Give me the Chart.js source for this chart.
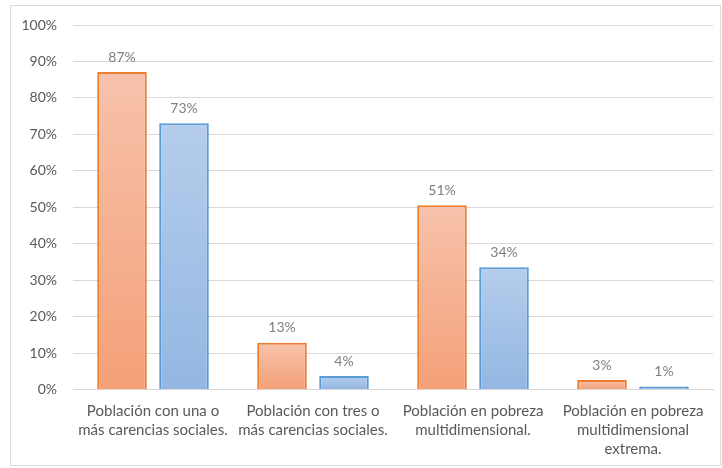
<!DOCTYPE html>
<html>
<head>
<meta charset="utf-8">
<script src="https://cdn.jsdelivr.net/npm/chart.js@4"></script>
<style>
  html, body { margin: 0; background: #fff; overflow: hidden; width: 722px; height: 468px; }
  #marco { position: absolute; left: 10px; top: 5px; width: 709px; height: 459px; border: 1px solid #d9d9d9; }
  #caja { position: absolute; left: 11px; top: 2px; width: 709px; height: 469px; }
</style>
</head>
<body>
<div id="marco"></div>
<div id="caja"><canvas id="chart"></canvas></div>
<script>
// Categorías y valores (porcentajes)
const categorias = [
  ["Población con una o", "más carencias sociales."],
  ["Población con tres o", "más carencias sociales."],
  ["Población en pobreza", "multidimensional."],
  ["Población en pobreza", "multidimensional", "extrema."]
];
const serieNaranja = [87.1, 12.9, 50.6, 2.7];
const serieAzul = [73.1, 3.8, 33.6, 0.9];
const etiquetasNaranja = ["87%", "13%", "51%", "3%"];
const etiquetasAzul = ["73%", "4%", "34%", "1%"];

// Degradado vertical por barra
function degradado(arriba, abajo) {
  return (ctx) => {
    const chart = ctx.chart;
    const y = chart.scales && chart.scales.y;
    if (!y || ctx.parsed === undefined) return abajo;
    const top = y.getPixelForValue(ctx.parsed.y);
    const base = y.getPixelForValue(0);
    if (!isFinite(top) || !isFinite(base) || top === base) return abajo;
    const g = chart.ctx.createLinearGradient(0, top, 0, base);
    g.addColorStop(0, arriba);
    g.addColorStop(1, abajo);
    return g;
  };
}

// Plugin para escribir los valores encima de las barras
const etiquetasPlugin = {
  id: "etiquetas",
  afterDatasetsDraw(chart) {
    const ctx = chart.ctx;
    ctx.save();
    ctx.font = "14px Lato";
    ctx.fillStyle = "#7f7f7f";
    ctx.textAlign = "center";
    ctx.textBaseline = "bottom";
    chart.data.datasets.forEach((ds, i) => {
      chart.getDatasetMeta(i).data.forEach((bar, j) => {
        ctx.fillText(ds.etiquetas[j], bar.x, bar.y - 8);
      });
    });
    ctx.restore();
  }
};

new Chart(document.getElementById("chart"), {
  type: "bar",
  data: {
    labels: categorias,
    datasets: [
      {
        label: "Serie 1",
        data: serieNaranja,
        etiquetas: etiquetasNaranja,
        backgroundColor: degradado("#f7c2ab", "#f4a078"),
        borderColor: "#ed7d31",
        borderWidth: 2,
        borderSkipped: "bottom"
      },
      {
        label: "Serie 2",
        data: serieAzul,
        etiquetas: etiquetasAzul,
        backgroundColor: degradado("#b5cdeb", "#93b7e2"),
        borderColor: "#5b9bd5",
        borderWidth: 2,
        borderSkipped: "bottom"
      }
    ]
  },
  options: {
    responsive: true,
    maintainAspectRatio: false,
    animation: false,
    datasets: { bar: { categoryPercentage: 0.775, barPercentage: 0.8 } },
    layout: { padding: { top: 0, right: 7, left: 0, bottom: 0 } },
    plugins: { legend: { display: false }, tooltip: { enabled: false } },
    scales: {
      x: {
        grid: { display: false, drawTicks: false },
        border: { color: "#d9d9d9", width: 1 },
        ticks: { color: "#595959", font: { family: "Lato", size: 15, lineHeight: 1.27 }, padding: 12, maxRotation: 0, autoSkip: false }
      },
      y: {
        min: 0,
        max: 100,
        afterFit: (scale) => { scale.width = 62; },
        grid: { color: "#d9d9d9", lineWidth: 1, drawTicks: false },
        border: { display: false },
        ticks: {
          stepSize: 10,
          padding: 16,
          color: "#595959",
          font: { family: "Lato", size: 14, lineHeight: 1 },
          callback: (v) => v + "%"
        }
      }
    }
  },
  plugins: [etiquetasPlugin]
});
</script>
</body>
</html>
